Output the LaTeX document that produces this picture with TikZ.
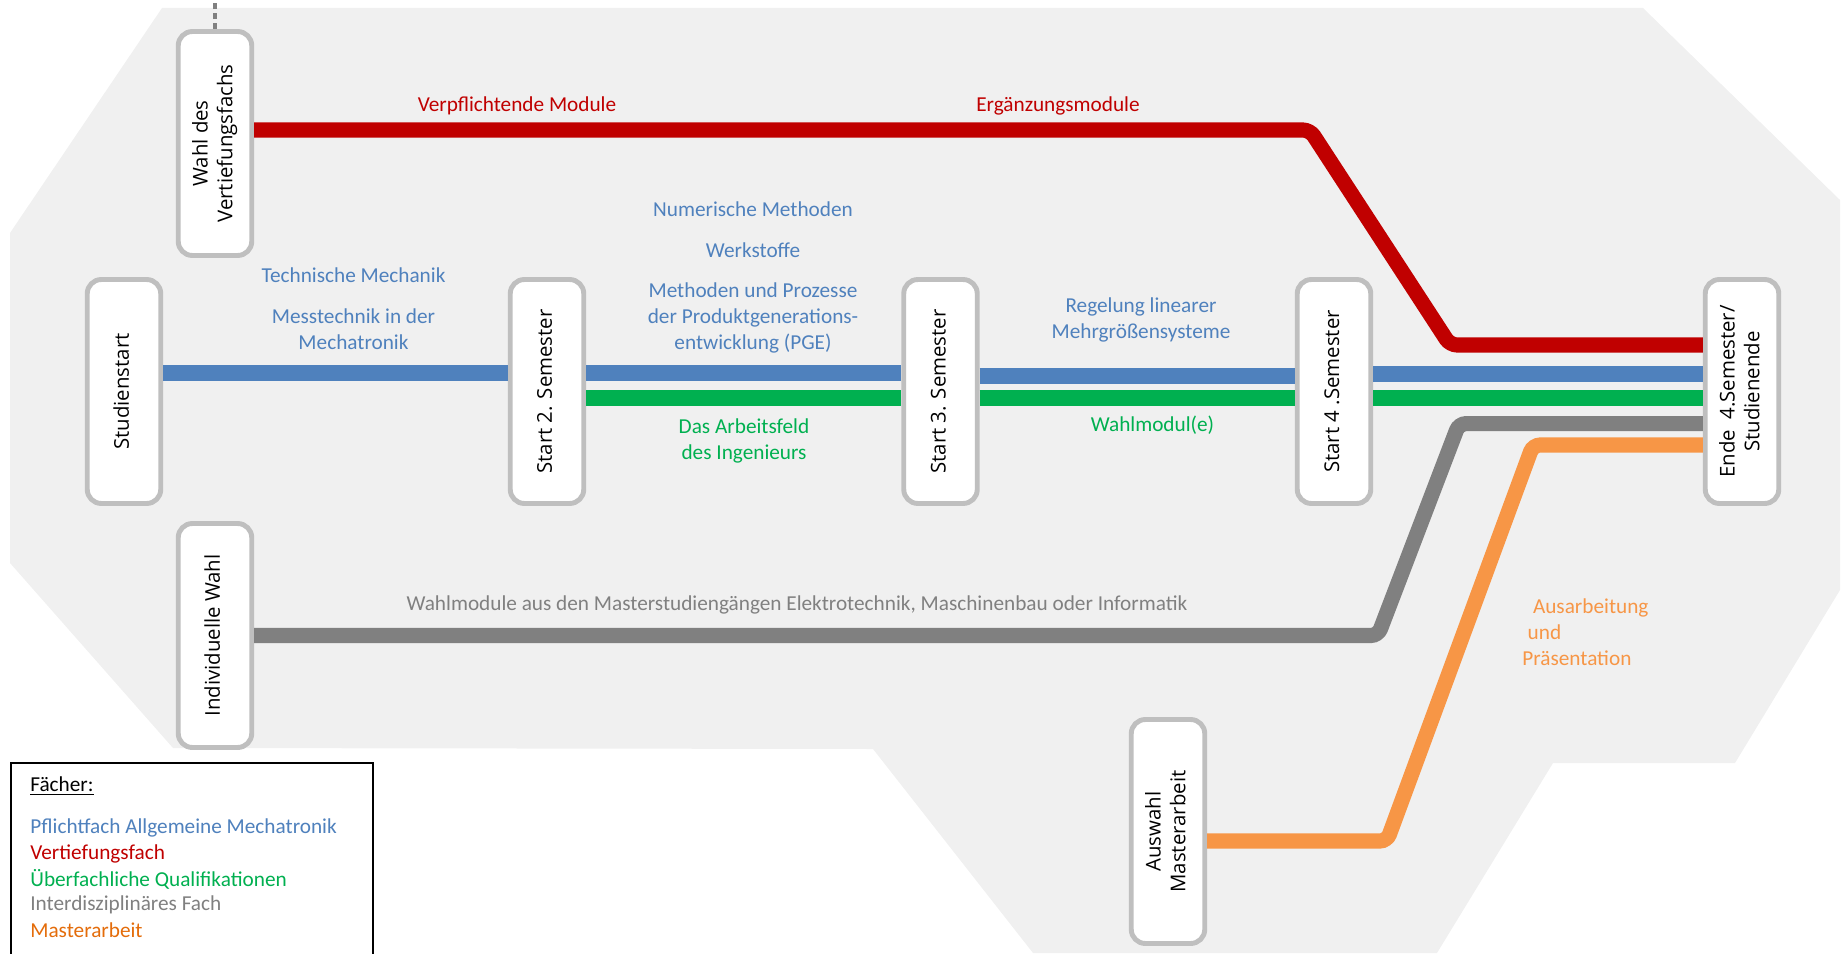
\documentclass[tikz,border=0pt]{standalone}
\usepackage{fontspec}
\setmainfont{Carlito}
\newfontfamily\boxfont{Open Sans}
\usepackage{graphicx}
\usepackage{tikz}
\usetikzlibrary{calc}

\definecolor{mred}{HTML}{C00000}
\definecolor{mblue}{HTML}{4F81BD}
\definecolor{mgreen}{HTML}{00B050}
\definecolor{mgray}{HTML}{808080}
\definecolor{morange}{HTML}{F79646}
\definecolor{mdorange}{HTML}{E46C0A}
\definecolor{boxgray}{HTML}{BFBFBF}
\definecolor{bggray}{HTML}{F0F0F0}

\newcommand{\vlabel}[1]{\rotatebox{90}{\begin{tabular}{@{}c@{}}#1\end{tabular}}}

\tikzset{
  station/.style={draw=boxgray, line width=2.8pt, fill=white, rounded corners=8pt,
    minimum width=1.47cm, minimum height=4.48cm, inner sep=0pt,
    font=\boxfont\fontsize{11.6}{14.2}\selectfont},
  track/.style={line width=8.6pt},
  lbl/.style={inner sep=0pt, align=center, font=\fontsize{12.1}{14.8}\selectfont},
}

\begin{document}
\begin{tikzpicture}[x=0.02cm,y=-0.02cm]
  \clip (0,0) rectangle (1845,953);
  %
  % Background area
  \fill[bggray] (162,8) -- (1643,8) -- (1840,200) -- (1840,590) -- (1735,763)
    -- (1553,763) -- (1437,953) -- (1033,953) -- (873,749) -- (173,748)
    -- (10,563) -- (10,233) -- cycle;
  %
  % Stations
  \node[station] (wahl) at (215,143.5) {\vlabel{Wahl des\\Vertiefungsfachs}};
  \node[station] (stud) at (124,391.5) {\vlabel{Studienstart}};
  \node[station] (sem2) at (547,391.5) {\vlabel{Start 2. Semester}};
  \node[station] (sem3) at (940.5,391.5) {\vlabel{Start 3. Semester}};
  \node[station] (sem4) at (1334,391.5) {\vlabel{Start 4 .Semester}};
  \node[station] (ende) at (1742,391.5) {\vlabel{Ende\ \ 4.Semester/\\Studienende}};
  \node[station] (indiv) at (215,635.5) {\vlabel{Individuelle Wahl}};
  \node[station] (auswahl) at (1168,831.5) {\vlabel{Auswahl\\Masterarbeit}};
  %
  % Dotted lead-in
  \draw[mgray, line width=2.6pt, dash pattern=on 3.4pt off 2.3pt]
    (wahl.north) -- (wahl.north |- 0,0);
  %
  % Tracks
  \draw[track,mred,rounded corners=4pt] (wahl.east |- 0,130) -- (1310,130)
    -- (1450,345) -- (ende.west |- 0,345);
  \foreach \a/\b/\y in {stud/sem2/373, sem2/sem3/373, sem3/sem4/376, sem4/ende/374}
    \draw[track,mblue] (\a.east |- 0,\y) -- (\b.west |- 0,\y);
  \foreach \a/\b in {sem2/sem3, sem3/sem4, sem4/ende}
    \draw[track,mgreen] (\a.east |- 0,398) -- (\b.west |- 0,398);
  \draw[track,mgray,rounded corners=4pt] (indiv.east) -- (1378,635.5)
    -- (1459,423.6) -- (ende.west |- 0,423.6);
  \draw[track,morange,rounded corners=4pt] (auswahl.east |- 0,841) -- (1387,841)
    -- (1533,445) -- (ende.west |- 0,445);
  %
  % Track labels
  \node[lbl,text=mred] (verpfl) at (517,106) {Verpflichtende Module};
  \node[lbl,text=mred] (ergaenz) at (1058,106) {Ergänzungsmodule};
  \node[lbl,text=mblue] (techmech) at (353.5,275) {Technische Mechanik};
  \node[lbl,text=mblue] (messtech) at (353.5,329.5) {Messtechnik in der\\Mechatronik};
  \node[lbl,text=mblue] (nummeth) at (753,209.5) {Numerische Methoden};
  \node[lbl,text=mblue] (werkst) at (753,250.5) {Werkstoffe};
  \node[lbl,text=mblue] (pge) at (753,317.7) {Methoden und Prozesse\\der Produktgenerations-\\entwicklung (PGE)};
  \node[lbl,text=mblue] (regel) at (1141,320) {Regelung linearer\\Mehrgrößensysteme};
  \node[lbl,text=mgreen] (arbeitsf) at (744,441) {Das Arbeitsfeld\\des Ingenieurs};
  \node[lbl,text=mgreen] (wahlmod) at (1152.5,425) {Wahlmodul(e)};
  \node[lbl,text=mgray] (interd) at (797,605)
    {Wahlmodule aus den Masterstudiengängen Elektrotechnik, Maschinenbau oder Informatik};
  \node[lbl,text=morange,align=left,anchor=west] (ausarb) at (1522,632)
    {\hspace{0.5em}Ausarbeitung\\\hspace{0.25em}und\\Präsentation};
  %
  % Legend
  \draw[line width=1.2pt,fill=white] (11,763) rectangle (373,975);
  \node[lbl,anchor=west] (faecher) at (30,786) {\underline{Fächer:}};
  \foreach \txt/\col [count=\i] in {Pflichtfach Allgemeine Mechatronik/mblue,
      Vertiefungsfach/mred, Überfachliche Qualifikationen/mgreen,
      Interdisziplinäres Fach/mgray, Masterarbeit/mdorange}
    \node[lbl,anchor=west,text=\col] (leg\i) at (30,{802.5+25.5*\i}) {\txt};
  %
\end{tikzpicture}
\end{document}
